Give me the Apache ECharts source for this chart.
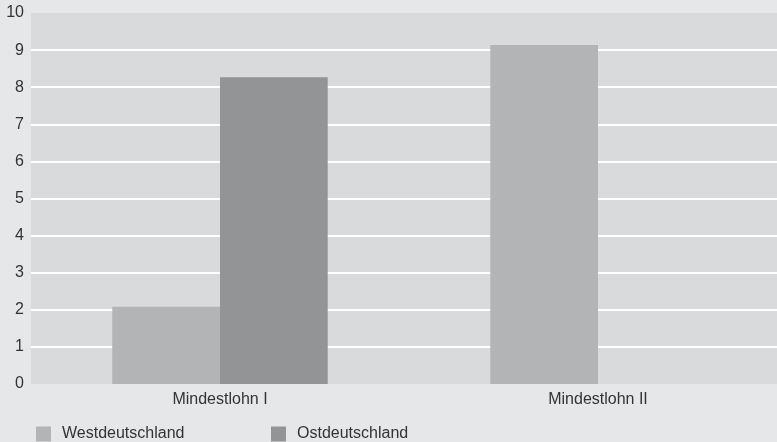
<!DOCTYPE html>
<html>
<head>
<meta charset="utf-8">
<script src="https://cdn.jsdelivr.net/npm/echarts@6/dist/echarts.min.js"></script>
<style>
html,body{margin:0;padding:0;background:#e6e7e8;}
#c{width:777px;height:442px;}
</style>
</head>
<body>
<div id="c"></div>
<script>
const categories = ['Mindestlohn I', 'Mindestlohn II'];
const west = [2.08, 9.14];
const ost = [8.27, null];
const seriesNames = ['Westdeutschland', 'Ostdeutschland'];

const chart = echarts.init(document.getElementById('c'), null, {renderer: 'canvas'});
const font = '"Liberation Sans", Arial, sans-serif';
chart.setOption({
  animation: false,
  backgroundColor: '#e6e7e8',
  grid: {left: 31, top: 13, height: 371, width: 756, outerBoundsMode: 'none', containLabel: false,
         show: true, backgroundColor: '#d9dadb', borderWidth: 0},
  legend: [
    {data: [seriesNames[0]], left: 31, top: 421, itemWidth: 15, itemHeight: 15, icon: 'rect',
     textStyle: {fontFamily: font, fontSize: 16, color: '#333', padding: [2,0,0,6]}},
    {data: [seriesNames[1]], left: 266, top: 421, itemWidth: 15, itemHeight: 15, icon: 'rect',
     textStyle: {fontFamily: font, fontSize: 16, color: '#333', padding: [2,0,0,6]}}
  ],
  xAxis: {
    type: 'category', data: categories,
    axisLine: {show: false}, axisTick: {show: false},
    axisLabel: {fontFamily: font, fontSize: 16, color: '#333', margin: 8}
  },
  yAxis: {
    type: 'value', min: 0, max: 10, interval: 1,
    axisLine: {show: false}, axisTick: {show: false},
    axisLabel: {fontFamily: font, fontSize: 16, color: '#333', margin: 7, padding: [3,0,0,0]},
    splitLine: {showMinLine: false, showMaxLine: false, lineStyle: {color: '#ffffff', width: 2}}
  },
  series: [
    {name: seriesNames[0], type: 'bar', data: west, itemStyle: {color: '#b3b4b5'}, barGap: '0%', barCategoryGap: '43%'},
    {name: seriesNames[1], type: 'bar', data: ost, itemStyle: {color: '#939496'}, barGap: '0%', barCategoryGap: '43%'}
  ]
});
</script>
</body>
</html>
